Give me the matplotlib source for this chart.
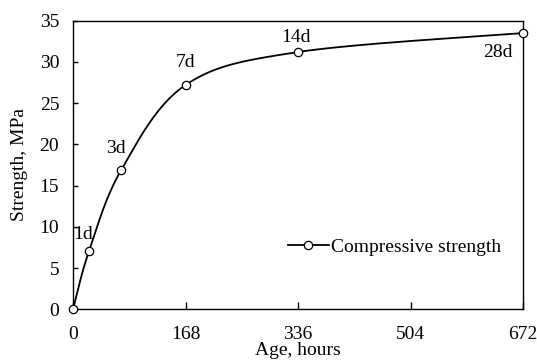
import numpy as np
import matplotlib
matplotlib.use("Agg")
import matplotlib.pyplot as plt
from matplotlib.lines import Line2D

# Compressive strength development
age_hours = [0, 24, 72, 168, 336, 672]
strength_mpa = [0.0, 7.1, 16.9, 27.2, 31.2, 33.5]
age_labels = ["", "1d", "3d", "7d", "14d", "28d"]
label_offsets_px = [(0, 0), (-6, 16), (-5, 21), (0, 23), (-2, 15), (-25, -19)]
x_ticks = [0, 168, 336, 504, 672]
y_ticks = [0, 5, 10, 15, 20, 25, 30, 35]

plt.rcParams["font.family"] = ["Liberation Serif", "DejaVu Serif"]
plt.rcParams["font.size"] = 14

fig = plt.figure(figsize=(5.37, 3.63), dpi=100)
ax = fig.add_axes([0.136, 0.148, 0.838, 0.795])

XMIN, XMAX, YMIN, YMAX = 0, 672, 0, 35
ax.set_xlim(XMIN, XMAX)
ax.set_ylim(YMIN, YMAX)


def smooth_curve(xs, ys, n=60):
    """Catmull-Rom style smoothing computed in axes-fraction space."""
    w = 0.838 * 5.37
    h = 0.795 * 3.63
    px = (np.asarray(xs, float) - XMIN) / (XMAX - XMIN) * w
    py = (np.asarray(ys, float) - YMIN) / (YMAX - YMIN) * h
    P = np.column_stack([px, py])
    P_ext = np.vstack([P[0], P, P[-1]])
    out = []
    for i in range(1, len(P_ext) - 2):
        p0, p1, p2, p3 = P_ext[i - 1], P_ext[i], P_ext[i + 1], P_ext[i + 2]
        c1 = p1 + (p2 - p0) / 6.0
        c2 = p2 - (p3 - p1) / 6.0
        t = np.linspace(0, 1, n)[:, None]
        seg = ((1 - t) ** 3) * p1 + 3 * ((1 - t) ** 2) * t * c1 \
            + 3 * (1 - t) * t ** 2 * c2 + t ** 3 * p2
        out.append(seg if i == 1 else seg[1:])
    S = np.vstack(out)
    sx = S[:, 0] / w * (XMAX - XMIN) + XMIN
    sy = S[:, 1] / h * (YMAX - YMIN) + YMIN
    return sx, sy


sx, sy = smooth_curve(age_hours, strength_mpa)
ax.plot(sx, sy, color="black", lw=1.3, zorder=2, clip_on=False)
ax.plot(age_hours, strength_mpa, ls="none", marker="o", ms=6,
        mfc="white", mec="black", mew=0.9, zorder=3, clip_on=False)

for x, y, lab, (dx, dy) in zip(age_hours, strength_mpa, age_labels, label_offsets_px):
    if lab:
        ax.annotate(lab, (x, y), xytext=(dx, dy), textcoords="offset pixels",
                    ha="center", va="center", fontsize=14)

ax.set_xticks(x_ticks)
ax.set_xticklabels([str(v) for v in x_ticks])
ax.set_yticks(y_ticks)
ax.tick_params(axis="x", direction="in", length=5, width=1.0, pad=12, labelsize=14)
ax.tick_params(axis="y", direction="in", length=3.5, width=1.0, pad=10, labelsize=14)
for s in ax.spines.values():
    s.set_linewidth(1.0)

ax.set_xlabel("Age, hours", fontsize=14, labelpad=-1)
ax.set_ylabel("Strength, MPa", fontsize=14, labelpad=8)

handle = Line2D([], [], color="black", lw=1.3, marker="o", ms=6,
                mfc="white", mec="black", mew=0.9)
ax.legend([handle], ["Compressive strength"], loc="center left",
          bbox_to_anchor=(0.46, 0.215), frameon=False, handlelength=2.1,
          handletextpad=0.1, fontsize=14, borderaxespad=0)

fig.savefig("out.png", dpi=100)
